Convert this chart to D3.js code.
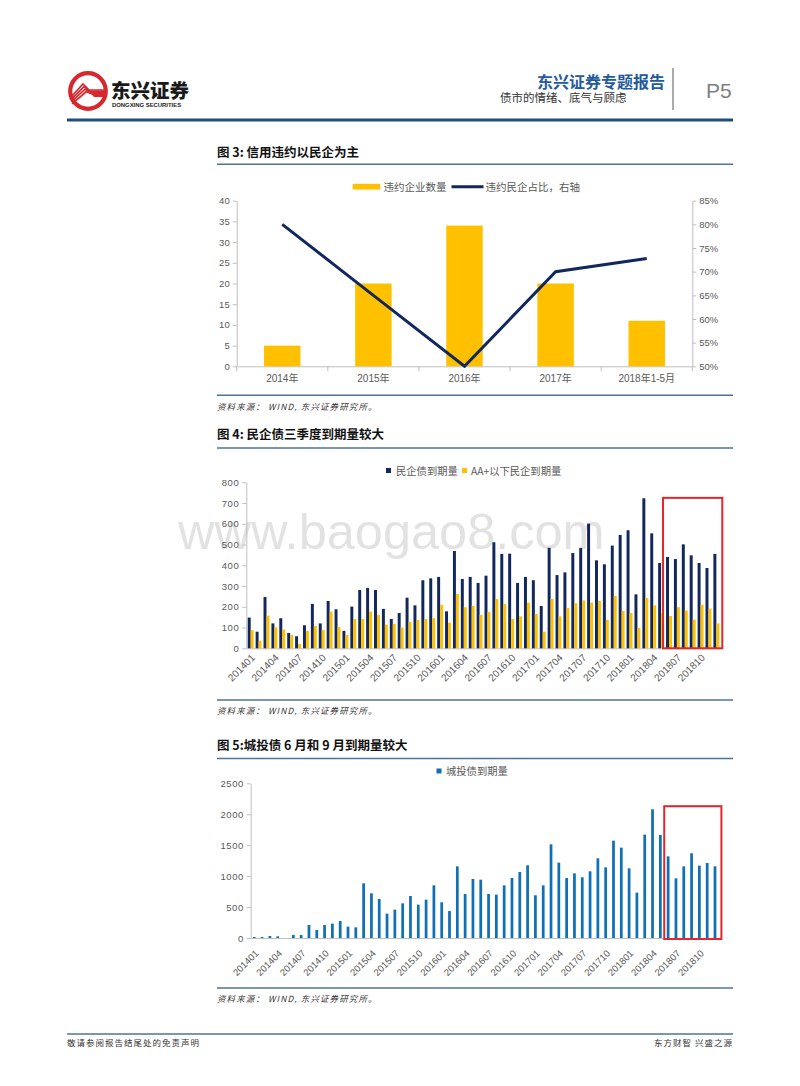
<!DOCTYPE html>
<html><head><meta charset="utf-8">
<script src="https://cdn.jsdelivr.net/npm/d3@7"></script>
<style>
body{margin:0;background:#fff}
svg{display:block}
text{font-family:"Liberation Sans","Noto Sans CJK SC",sans-serif}
.cjk{font-family:"Noto Sans CJK SC","Liberation Sans",sans-serif}
</style>
</head><body>
<svg id="c" width="800" height="1086"></svg>
<script>
// ---------- DATA ----------
const cat3 = ["2014年","2015年","2016年","2017年","2018年1-5月"];
const defaultCount3 = [5,20,34,20,11];
const privateShare3 = [0.80,0.65,0.50,0.70,0.728];
const ticks3L = [0,5,10,15,20,25,30,35,40];
const ticks3R = [0.50,0.55,0.60,0.65,0.70,0.75,0.80,0.85];

const months = ["201401","201402","201403","201404","201405","201406","201407","201408","201409","201410","201411","201412",
"201501","201502","201503","201504","201505","201506","201507","201508","201509","201510","201511","201512",
"201601","201602","201603","201604","201605","201606","201607","201608","201609","201610","201611","201612",
"201701","201702","201703","201704","201705","201706","201707","201708","201709","201710","201711","201712",
"201801","201802","201803","201804","201805","201806","201807","201808","201809","201810","201811","201812"];
const monthLabels = ["201401","201404","201407","201410","201501","201504","201507","201510","201601","201604","201607","201610",
"201701","201704","201707","201710","201801","201804","201807","201810"];

const privateDue4 = [148,80,247,120,145,74,58,111,214,120,228,188,
84,201,281,291,281,190,141,170,244,207,328,337,
344,178,469,334,344,315,350,511,455,456,315,344,
328,204,484,353,366,459,484,601,424,405,495,546,
569,260,723,554,411,440,430,501,448,411,387,455];
const belowAAplus4 = [87,37,157,101,90,64,21,84,108,88,177,103,
64,141,141,177,161,114,117,100,127,137,141,145,
210,124,262,198,204,161,175,238,214,141,154,220,
165,80,238,154,194,217,231,220,228,137,252,180,
170,98,243,207,170,156,198,182,138,210,191,120];
const ticks4 = [0,100,200,300,400,500,600,700,800];

const cityInvest5 = [16,16,32,27,0,48,48,210,129,210,232,275,
183,172,884,722,630,393,458,560,679,539,620,851,
577,436,1158,711,954,943,711,700,851,970,1067,1175,
690,851,1514,1218,970,1045,981,1078,1288,1142,1573,1460,
1126,733,1670,2080,1665,1320,964,1158,1369,1169,1212,1158];
const ticks5 = [0,500,1000,1500,2000,2500];

const highlightFrom = "201806", highlightTo = "201812";

// ---------- COLORS ----------
const YELLOW = "#FFC000", NAVY = "#12275E", BLUE = "#0F6FB7", RED = "#E3262C";
const AXIS = "#BFBFBF", TICKTXT = "#595959", RULE = "#4F7396";

const svg = d3.select("#c");

// ---------- HEADER ----------
const logo = svg.append("g").attr("transform","translate(88,91)");
logo.append("circle").attr("r",17.8).attr("fill","#fff").attr("stroke","#D7282F").attr("stroke-width",4.2);
[0,1,2,3].forEach(k=>{
  const o = k*2.6;
  logo.append("polyline")
    .attr("points",[[-16,5+o],[-5+o*0.4,-7+o],[1+o*0.4,-1+o*0.5],[16,-1+o*0.5]].map(p=>p.join(",")).join(" "))
    .attr("fill","none").attr("stroke","#D7282F").attr("stroke-width",1.7);
});
logo.append("path").attr("d","M2,1 L16,1 L16,6 L6,6 Z").attr("fill","#D7282F");
svg.append("text").attr("class","cjk").attr("x",111).attr("y",98).attr("font-size",19.5).attr("font-weight",900).attr("fill","#1a1a1a").text("东兴证券");
svg.append("text").attr("x",112).attr("y",106.5).attr("font-size",5.9).attr("font-weight","bold").attr("fill","#1a1a1a").text("DONGXING SECURITIES");

svg.append("text").attr("class","cjk").attr("x",665).attr("y",88).attr("text-anchor","end").attr("font-size",16).attr("font-weight","bold").attr("fill","#245A9C").text("东兴证券专题报告");
svg.append("text").attr("class","cjk").attr("x",500).attr("y",102).attr("font-size",11.5).attr("fill","#333").text("债市的情绪、底气与顾虑");
svg.append("line").attr("x1",673).attr("x2",673).attr("y1",68).attr("y2",110).attr("stroke","#7f7f7f").attr("stroke-width",1.3);
svg.append("text").attr("x",706).attr("y",98).attr("font-size",21).attr("fill","#808080").text("P5");
svg.append("rect").attr("x",67).attr("y",118.5).attr("width",666).attr("height",3).attr("fill","#1F4E79");

// ---------- helpers ----------
function title(y, txt){
  svg.append("text").attr("class","cjk").attr("x",217).attr("y",y).attr("font-size",12.5).attr("font-weight","bold").attr("fill","#111").text(txt);
}
function rule(y){
  svg.append("line").attr("x1",217).attr("x2",733).attr("y1",y).attr("y2",y).attr("stroke",RULE).attr("stroke-width",1.5);
}
function source(y){
  svg.append("text").attr("class","cjk").attr("x",217).attr("y",y).attr("font-size",8.5).attr("font-style","italic").attr("letter-spacing",1.1).attr("fill","#333").text("资料来源： WIND, 东兴证券研究所。");
}
function styleAxis(g, fs){
  g.attr("font-family","Liberation Sans").attr("font-size",fs||9.5);
  g.selectAll("path.domain").attr("stroke",AXIS);
  g.selectAll(".tick line").attr("stroke",AXIS);
  g.selectAll(".tick text").attr("fill",TICKTXT);
}

// ---------- CHART 3 ----------
title(157,"图 3: 信用违约以民企为主");
rule(164.3);
const x3 = d3.scaleBand().domain(cat3).range([236.7,692.3]).paddingInner(0.6).paddingOuter(0.3);
const y3L = d3.scaleLinear().domain([0,40]).range([366.3,200.7]);
const y3R = d3.scaleLinear().domain([0.5,0.85]).range([366.3,200.7]);

const gL = svg.append("g").attr("transform","translate(236.7,0)")
  .call(d3.axisLeft(y3L).tickValues(ticks3L).tickSize(4).tickSizeOuter(0).tickPadding(3));
styleAxis(gL);
const gR = svg.append("g").attr("transform","translate(692.3,0)")
  .call(d3.axisRight(y3R).tickValues(ticks3R).tickSize(4).tickSizeOuter(0).tickPadding(3).tickFormat(d3.format(".0%")));
styleAxis(gR);
const gB = svg.append("g").attr("transform","translate(0,366.3)")
  .call(d3.axisBottom(x3).tickSize(0).tickSizeOuter(0).tickPadding(9));
styleAxis(gB, 10);
gB.selectAll(".tick text").attr("font-family","Liberation Sans, Noto Sans CJK SC");
const step3 = x3.step();
d3.range(cat3.length+1).forEach(i=>{
  const xx = x3.range()[0] + i*step3;
  gB.append("line").attr("x1",xx).attr("x2",xx).attr("y1",0).attr("y2",5).attr("stroke",AXIS);
});

svg.append("g").selectAll("rect").data(cat3).join("rect")
  .attr("x",d=>x3(d)).attr("width",x3.bandwidth())
  .attr("y",(d,i)=>y3L(defaultCount3[i])).attr("height",(d,i)=>y3L(0)-y3L(defaultCount3[i]))
  .attr("fill",YELLOW);
svg.append("path").datum(cat3.map((c,i)=>[c,privateShare3[i]]))
  .attr("d",d3.line().x(d=>x3(d[0])+x3.bandwidth()/2).y(d=>y3R(d[1])))
  .attr("fill","none").attr("stroke",NAVY).attr("stroke-width",3);

// legend 3
svg.append("rect").attr("x",352.7).attr("y",183.8).attr("width",27.5).attr("height",5.8).attr("fill",YELLOW);
svg.append("text").attr("class","cjk").attr("x",383.5).attr("y",190.5).attr("font-size",10.5).attr("fill",TICKTXT).text("违约企业数量");
svg.append("line").attr("x1",451.5).attr("x2",483.5).attr("y1",186.7).attr("y2",186.7).attr("stroke",NAVY).attr("stroke-width",3);
svg.append("text").attr("class","cjk").attr("x",485.5).attr("y",190.5).attr("font-size",10.5).attr("fill",TICKTXT).text("违约民企占比，右轴");

rule(395.3);
source(410);

// ---------- CHART 4 ----------
title(439,"图 4: 民企债三季度到期量较大");
rule(448);

// watermark
svg.append("text").attr("x",178).attr("y",549).attr("font-size",50.5).attr("fill","#000").attr("opacity",0.11).text("www.baogao8.com");

const x4 = d3.scaleBand().domain(months).range([246.75,720.3]).paddingInner(0.25).paddingOuter(0.125);
const y4 = d3.scaleLinear().domain([0,800]).range([648.3,482.3]);
const hw4 = x4.bandwidth()/2;

const g4L = svg.append("g").attr("transform","translate(246.3,0)")
  .call(d3.axisLeft(y4).tickValues(ticks4).tickSize(4).tickSizeOuter(0).tickPadding(3));
styleAxis(g4L);
g4L.selectAll(".tick text").attr("letter-spacing",0.6);
const g4B = svg.append("g").attr("transform","translate(0,648.3)")
  .call(d3.axisBottom(x4).tickValues(monthLabels).tickSize(0).tickSizeOuter(0));
styleAxis(g4B, 10);
g4B.selectAll(".tick text").attr("y",0).attr("dy",0).attr("text-anchor","end")
  .attr("transform","translate(5,10) rotate(-45)");

svg.append("g").selectAll("rect").data(months).join("rect")
  .attr("x",d=>x4(d)).attr("width",hw4)
  .attr("y",(d,i)=>y4(privateDue4[i])).attr("height",(d,i)=>y4(0)-y4(privateDue4[i]))
  .attr("fill",NAVY);
svg.append("g").selectAll("rect").data(months).join("rect")
  .attr("x",d=>x4(d)+hw4).attr("width",hw4)
  .attr("y",(d,i)=>y4(belowAAplus4[i])).attr("height",(d,i)=>y4(0)-y4(belowAAplus4[i]))
  .attr("fill",YELLOW);

// highlight 4
svg.append("rect").attr("x",x4(highlightFrom)-3).attr("y",y4(725))
  .attr("width",x4(highlightTo)+x4.step()-x4(highlightFrom)+4).attr("height",y4(0)-y4(725))
  .attr("fill","none").attr("stroke",RED).attr("stroke-width",2);

// legend 4
svg.append("rect").attr("x",386).attr("y",468).attr("width",5).attr("height",5).attr("fill",NAVY);
svg.append("text").attr("class","cjk").attr("x",396).attr("y",474.5).attr("font-size",10.3).attr("fill",TICKTXT).text("民企债到期量");
svg.append("rect").attr("x",462).attr("y",468).attr("width",5).attr("height",5).attr("fill",YELLOW);
svg.append("text").attr("class","cjk").attr("x",471).attr("y",474.5).attr("font-size",10.3).attr("fill",TICKTXT).text("AA+以下民企到期量");

rule(700);
source(714);

// ---------- CHART 5 ----------
title(750,"图 5:城投债 6 月和 9 月到期量较大");
rule(758.5);

const x5 = d3.scaleBand().domain(months).range([250.4,718.9]).paddingInner(0.65).paddingOuter(0.325);
const y5 = d3.scaleLinear().domain([0,2500]).range([938,783.3]);

const g5L = svg.append("g").attr("transform","translate(250.7,0)")
  .call(d3.axisLeft(y5).tickValues(ticks5).tickSize(4).tickSizeOuter(0).tickPadding(3).tickFormat(d3.format("d")));
styleAxis(g5L);
g5L.selectAll(".tick text").attr("letter-spacing",0.5);
const g5B = svg.append("g").attr("transform","translate(0,938)")
  .call(d3.axisBottom(x5).tickValues(monthLabels).tickSize(0).tickSizeOuter(0));
styleAxis(g5B);
g5B.selectAll(".tick text").attr("y",0).attr("dy",0).attr("text-anchor","end")
  .attr("transform","translate(5,16) rotate(-45)");

svg.append("g").selectAll("rect").data(months).join("rect")
  .attr("x",d=>x5(d)).attr("width",x5.bandwidth())
  .attr("y",(d,i)=>y5(cityInvest5[i])).attr("height",(d,i)=>y5(0)-y5(cityInvest5[i]))
  .attr("fill",BLUE);

// highlight 5
svg.append("rect").attr("x",x5(highlightFrom)-x5.step()*0.325).attr("y",y5(2130))
  .attr("width",x5(highlightTo)-x5(highlightFrom)+x5.step()+2.5).attr("height",y5(0)-y5(2130)+1)
  .attr("fill","none").attr("stroke",RED).attr("stroke-width",2);

// legend 5
svg.append("rect").attr("x",436.5).attr("y",768.5).attr("width",5).attr("height",5).attr("fill",BLUE);
svg.append("text").attr("class","cjk").attr("x",446).attr("y",775).attr("font-size",10.3).attr("fill",TICKTXT).text("城投债到期量");

rule(988);
source(1002);

// ---------- FOOTER ----------
svg.append("line").attr("x1",67).attr("x2",733).attr("y1",1034).attr("y2",1034).attr("stroke",RULE).attr("stroke-width",1.5);
svg.append("text").attr("class","cjk").attr("x",67).attr("y",1046).attr("font-size",8.5).attr("letter-spacing",1).attr("fill","#333").text("敬请参阅报告结尾处的免责声明");
svg.append("text").attr("class","cjk").attr("x",733).attr("y",1046).attr("text-anchor","end").attr("font-size",8.5).attr("letter-spacing",1).attr("fill","#333").text("东方财智 兴盛之源");
</script>
</body></html>
